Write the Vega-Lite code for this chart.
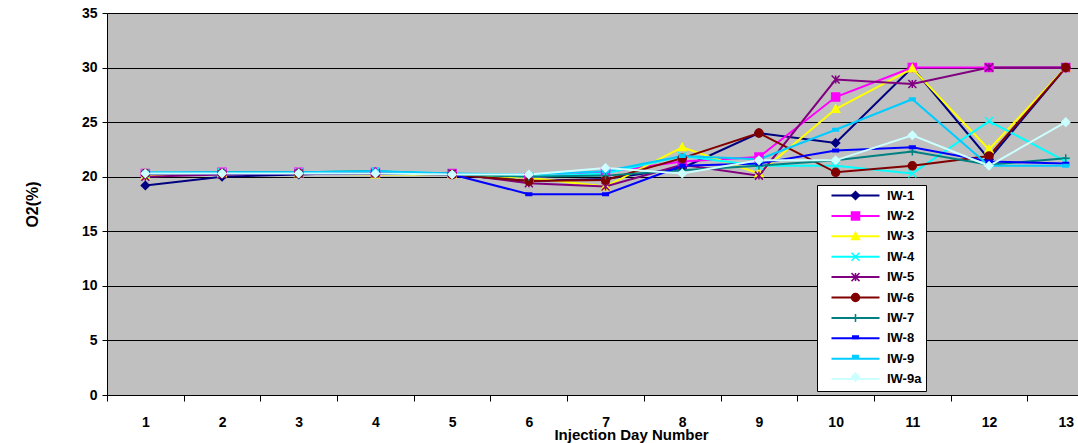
{
  "$schema": "https://vega.github.io/schema/vega-lite/v6.json",
  "width": 971,
  "height": 382,
  "autosize": {"type": "none"},
  "padding": {"left": 107, "top": 13, "right": 0, "bottom": 48},
  "background": "white",
  "config": {
    "view": {"fill": "#c0c0c0", "stroke": "#808080", "strokeWidth": 1},
    "font": "Liberation Sans",
    "axis": {"labelColor": "black", "titleColor": "black", "domainColor": "black", "tickColor": "black", "labelFont": "Liberation Sans", "titleFont": "Liberation Sans"},
    "legend": {
      "padding": 4,
      "symbolSize": 64,
      "symbolOffset": 28,
      "labelOffset": 25,
      "labelFontSize": 13, "labelFontWeight": "bold", "labelColor": "black", "labelFont": "Liberation Sans"
    }
  },
  "datasets": {
    "o2": [
      {"well": "IW-1", "day": 1, "o2": 19.2}, {"well": "IW-1", "day": 2, "o2": 20.0}, {"well": "IW-1", "day": 3, "o2": 20.2}, {"well": "IW-1", "day": 4, "o2": 20.4}, {"well": "IW-1", "day": 5, "o2": 20.2}, {"well": "IW-1", "day": 6, "o2": 19.6}, {"well": "IW-1", "day": 7, "o2": 19.8}, {"well": "IW-1", "day": 8, "o2": 20.8}, {"well": "IW-1", "day": 9, "o2": 24.0}, {"well": "IW-1", "day": 10, "o2": 23.1}, {"well": "IW-1", "day": 11, "o2": 30.0}, {"well": "IW-1", "day": 12, "o2": 21.6}, {"well": "IW-1", "day": 13, "o2": 30.0},
      {"well": "IW-2", "day": 1, "o2": 20.3}, {"well": "IW-2", "day": 2, "o2": 20.4}, {"well": "IW-2", "day": 3, "o2": 20.4}, {"well": "IW-2", "day": 4, "o2": 20.4}, {"well": "IW-2", "day": 5, "o2": 20.3}, {"well": "IW-2", "day": 6, "o2": 19.9}, {"well": "IW-2", "day": 7, "o2": 20.4}, {"well": "IW-2", "day": 8, "o2": 21.4}, {"well": "IW-2", "day": 9, "o2": 21.8}, {"well": "IW-2", "day": 10, "o2": 27.3}, {"well": "IW-2", "day": 11, "o2": 30.0}, {"well": "IW-2", "day": 12, "o2": 30.0}, {"well": "IW-2", "day": 13, "o2": 30.0},
      {"well": "IW-3", "day": 1, "o2": 20.1}, {"well": "IW-3", "day": 2, "o2": 20.3}, {"well": "IW-3", "day": 3, "o2": 20.3}, {"well": "IW-3", "day": 4, "o2": 20.2}, {"well": "IW-3", "day": 5, "o2": 20.2}, {"well": "IW-3", "day": 6, "o2": 19.9}, {"well": "IW-3", "day": 7, "o2": 19.1}, {"well": "IW-3", "day": 8, "o2": 22.7}, {"well": "IW-3", "day": 9, "o2": 20.3}, {"well": "IW-3", "day": 10, "o2": 26.2}, {"well": "IW-3", "day": 11, "o2": 29.9}, {"well": "IW-3", "day": 12, "o2": 22.5}, {"well": "IW-3", "day": 13, "o2": 30.0},
      {"well": "IW-4", "day": 1, "o2": 20.3}, {"well": "IW-4", "day": 2, "o2": 20.4}, {"well": "IW-4", "day": 3, "o2": 20.4}, {"well": "IW-4", "day": 4, "o2": 20.5}, {"well": "IW-4", "day": 5, "o2": 20.3}, {"well": "IW-4", "day": 6, "o2": 20.0}, {"well": "IW-4", "day": 7, "o2": 20.3}, {"well": "IW-4", "day": 8, "o2": 21.9}, {"well": "IW-4", "day": 9, "o2": 21.0}, {"well": "IW-4", "day": 10, "o2": 21.0}, {"well": "IW-4", "day": 11, "o2": 20.3}, {"well": "IW-4", "day": 12, "o2": 25.1}, {"well": "IW-4", "day": 13, "o2": 21.4},
      {"well": "IW-5", "day": 1, "o2": 20.0}, {"well": "IW-5", "day": 2, "o2": 20.2}, {"well": "IW-5", "day": 3, "o2": 20.3}, {"well": "IW-5", "day": 4, "o2": 20.3}, {"well": "IW-5", "day": 5, "o2": 20.3}, {"well": "IW-5", "day": 6, "o2": 19.4}, {"well": "IW-5", "day": 7, "o2": 19.1}, {"well": "IW-5", "day": 8, "o2": 21.1}, {"well": "IW-5", "day": 9, "o2": 20.1}, {"well": "IW-5", "day": 10, "o2": 28.9}, {"well": "IW-5", "day": 11, "o2": 28.5}, {"well": "IW-5", "day": 12, "o2": 30.0}, {"well": "IW-5", "day": 13, "o2": 30.0},
      {"well": "IW-6", "day": 1, "o2": 20.3}, {"well": "IW-6", "day": 2, "o2": 20.3}, {"well": "IW-6", "day": 3, "o2": 20.3}, {"well": "IW-6", "day": 4, "o2": 20.3}, {"well": "IW-6", "day": 5, "o2": 20.2}, {"well": "IW-6", "day": 6, "o2": 19.6}, {"well": "IW-6", "day": 7, "o2": 19.7}, {"well": "IW-6", "day": 8, "o2": 21.7}, {"well": "IW-6", "day": 9, "o2": 24.0}, {"well": "IW-6", "day": 10, "o2": 20.4}, {"well": "IW-6", "day": 11, "o2": 21.0}, {"well": "IW-6", "day": 12, "o2": 21.9}, {"well": "IW-6", "day": 13, "o2": 30.0},
      {"well": "IW-7", "day": 1, "o2": 20.3}, {"well": "IW-7", "day": 2, "o2": 20.4}, {"well": "IW-7", "day": 3, "o2": 20.4}, {"well": "IW-7", "day": 4, "o2": 20.5}, {"well": "IW-7", "day": 5, "o2": 20.2}, {"well": "IW-7", "day": 6, "o2": 20.0}, {"well": "IW-7", "day": 7, "o2": 20.1}, {"well": "IW-7", "day": 8, "o2": 20.6}, {"well": "IW-7", "day": 9, "o2": 21.0}, {"well": "IW-7", "day": 10, "o2": 21.5}, {"well": "IW-7", "day": 11, "o2": 22.3}, {"well": "IW-7", "day": 12, "o2": 21.1}, {"well": "IW-7", "day": 13, "o2": 21.7},
      {"well": "IW-8", "day": 1, "o2": 20.3}, {"well": "IW-8", "day": 2, "o2": 20.3}, {"well": "IW-8", "day": 3, "o2": 20.3}, {"well": "IW-8", "day": 4, "o2": 20.3}, {"well": "IW-8", "day": 5, "o2": 20.2}, {"well": "IW-8", "day": 6, "o2": 18.4}, {"well": "IW-8", "day": 7, "o2": 18.4}, {"well": "IW-8", "day": 8, "o2": 21.0}, {"well": "IW-8", "day": 9, "o2": 21.2}, {"well": "IW-8", "day": 10, "o2": 22.4}, {"well": "IW-8", "day": 11, "o2": 22.7}, {"well": "IW-8", "day": 12, "o2": 21.4}, {"well": "IW-8", "day": 13, "o2": 21.2},
      {"well": "IW-9", "day": 1, "o2": 20.4}, {"well": "IW-9", "day": 2, "o2": 20.4}, {"well": "IW-9", "day": 3, "o2": 20.4}, {"well": "IW-9", "day": 4, "o2": 20.5}, {"well": "IW-9", "day": 5, "o2": 20.3}, {"well": "IW-9", "day": 6, "o2": 20.2}, {"well": "IW-9", "day": 7, "o2": 20.5}, {"well": "IW-9", "day": 8, "o2": 21.9}, {"well": "IW-9", "day": 9, "o2": 21.6}, {"well": "IW-9", "day": 10, "o2": 24.3}, {"well": "IW-9", "day": 11, "o2": 27.1}, {"well": "IW-9", "day": 12, "o2": 21.0}, {"well": "IW-9", "day": 13, "o2": 21.0},
      {"well": "IW-9a", "day": 1, "o2": 20.3}, {"well": "IW-9a", "day": 2, "o2": 20.3}, {"well": "IW-9a", "day": 3, "o2": 20.3}, {"well": "IW-9a", "day": 4, "o2": 20.3}, {"well": "IW-9a", "day": 5, "o2": 20.2}, {"well": "IW-9a", "day": 6, "o2": 20.2}, {"well": "IW-9a", "day": 7, "o2": 20.8}, {"well": "IW-9a", "day": 8, "o2": 20.3}, {"well": "IW-9a", "day": 9, "o2": 21.5}, {"well": "IW-9a", "day": 10, "o2": 21.5}, {"well": "IW-9a", "day": 11, "o2": 23.8}, {"well": "IW-9a", "day": 12, "o2": 21.0}, {"well": "IW-9a", "day": 13, "o2": 25.0}
    ]
  },
  "data": {"name": "o2"},
  "encoding": {
    "x": {
      "field": "day", "type": "quantitative",
      "scale": {"domain": [0.5, 13.16], "nice": false, "zero": false},
      "axis": {
        "values": [0.5, 1, 1.5, 2, 2.5, 3, 3.5, 4, 4.5, 5, 5.5, 6, 6.5, 7, 7.5, 8, 8.5, 9, 9.5, 10, 10.5, 11, 11.5, 12, 12.5, 13],
        "grid": false,
        "tickSize": 6,
        "tickOpacity": {"condition": {"test": "datum.value % 1 !== 0", "value": 1}, "value": 0},
        "labelExpr": "datum.value % 1 === 0 ? format(datum.value, 'd') : ''",
        "labelPadding": 14,
        "labelFontSize": 14,
        "labelFontWeight": "bold",
        "labelFlush": false,
        "labelOverlap": false,
        "title": "Injection Day Number",
        "titleFontSize": 15,
        "titleFontWeight": "bold",
        "titlePadding": -2,
        "titleX": 524,
        "titleAlign": "center"
      }
    },
    "y": {
      "field": "o2", "type": "quantitative",
      "scale": {"domain": [0, 35], "nice": false},
      "axis": {
        "values": [0, 5, 10, 15, 20, 25, 30, 35],
        "grid": true, "gridColor": "black", "gridOpacity": 1, "gridWidth": 1,
        "tickSize": 5,
        "labelPadding": 5,
        "labelFontSize": 14,
        "labelFontWeight": "bold",
        "title": "O2(%)",
        "titleFontSize": 16,
        "titleFontWeight": "bold",
        "titlePadding": 41
      }
    }
  },
  "resolve": {"scale": {"stroke": "independent", "fill": "independent", "shape": "independent"}},
  "layer": [
    {
      "mark": {"type": "line", "strokeWidth": 2},
      "encoding": {
        "stroke": {
          "field": "well", "type": "nominal",
          "scale": {"domain": ["IW-1", "IW-2", "IW-3", "IW-4", "IW-5", "IW-6", "IW-7", "IW-8", "IW-9", "IW-9a"],
                    "range": ["#000080", "#ff00ff", "#ffff00", "#00ffff", "#800080", "#800000", "#008080", "#0000ff", "#00ccff", "#ccffff"]},
          "legend": {
            "orient": "none", "legendX": 710, "legendY": 172, "title": null,
            "fillColor": "white", "strokeColor": "black", "zindex": 0,
            "symbolType": "M-6,0L6,0",
            "symbolStrokeWidth": 2,
            "rowPadding": 6.4,
            "labelExpr": "datum.label + '\u2003\u2003\u2002\u2009'"
          }
        }
      }
    },
    {
      "mark": {"type": "point", "filled": true, "size": 64, "opacity": 1, "strokeWidth": 1.5},
      "encoding": {
        "stroke": {
          "field": "well", "type": "nominal",
          "scale": {"domain": ["IW-1", "IW-2", "IW-3", "IW-4", "IW-5", "IW-6", "IW-7", "IW-8", "IW-9", "IW-9a"],
                    "range": ["#000080", "#ff00ff", "#ffff00", "#00ffff", "#800080", "#800000", "#008080", "#0000ff", "#00ccff", "#ccffff"]},
          "legend": {
            "orient": "none", "legendX": 710, "legendY": 172, "title": null,
            "fillColor": "transparent", "strokeColor": "transparent", "zindex": 1,
            "symbolStrokeWidth": 1.5,
            "rowPadding": 5.4,
            "labelExpr": "'\u00a0'"
          }
        },
        "fill": {
          "field": "well", "type": "nominal",
          "scale": {"domain": ["IW-1", "IW-2", "IW-3", "IW-4", "IW-5", "IW-6", "IW-7", "IW-8", "IW-9", "IW-9a"],
                    "range": ["#000080", "#ff00ff", "#ffff00", "#00ffff", "#800080", "#800000", "#008080", "#0000ff", "#00ccff", "#ccffff"]},
          "legend": {
            "orient": "none", "legendX": 710, "legendY": 172, "title": null,
            "fillColor": "transparent", "strokeColor": "transparent", "zindex": 1,
            "symbolStrokeWidth": 1.5,
            "rowPadding": 5.4,
            "labelExpr": "'\u00a0'"
          }
        },
        "shape": {
          "field": "well", "type": "nominal",
          "scale": {"domain": ["IW-1", "IW-2", "IW-3", "IW-4", "IW-5", "IW-6", "IW-7", "IW-8", "IW-9", "IW-9a"],
                    "range": ["M0,-1L1,0L0,1L-1,0Z", "M-1,-1L1,-1L1,1L-1,1Z", "M0,-1L1,0.8L-1,0.8Z", "M-1,-1L1,1M-1,1L1,-1", "M-1,-1L1,1M-1,1L1,-1M0,-1L0,1", "M1,0A1,1 0 1,1 -1,0A1,1 0 1,1 1,0Z", "M0,-1L0,1M-1,0L1,0", "M-0.7,-0.3L0.7,-0.3L0.7,0.3L-0.7,0.3Z", "M-0.7,-0.3L0.7,-0.3L0.7,0.3L-0.7,0.3Z", "M0,-1L1,0L0,1L-1,0Z"]},
          "legend": {
            "orient": "none", "legendX": 710, "legendY": 172, "title": null,
            "fillColor": "transparent", "strokeColor": "transparent", "zindex": 1,
            "symbolStrokeWidth": 1.5,
            "rowPadding": 5.4,
            "labelExpr": "'\u00a0'"
          }
        }
      }
    }
  ]
}
